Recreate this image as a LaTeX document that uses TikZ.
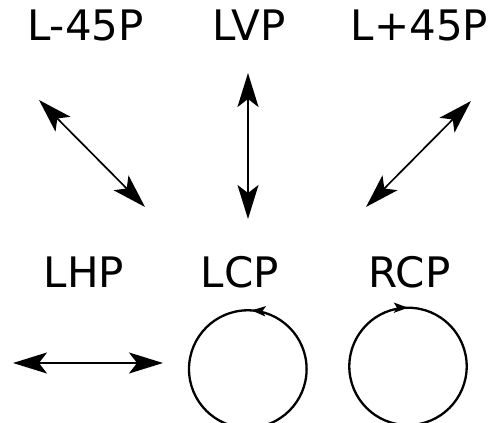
\documentclass[tikz,border=0pt]{standalone}
\usepackage{fontspec}
\setmainfont{DejaVu Sans}
\usetikzlibrary{arrows.meta,decorations.markings}
\tikzset{
  bigtip/.tip={Stealth[length=34pt,width=21pt,inset=8pt]},
  smalltip/.tip={Stealth[length=14pt,width=10pt,inset=3pt]}
}
\begin{document}
\begin{tikzpicture}[x=1pt,y=1pt,
  label/.style={anchor=base, inner sep=0pt, font=\fontsize{42}{50}\selectfont},
  polarrow/.style={line width=1.7pt, bigtip-bigtip},
  ring/.style={line width=2.3pt}]
\useasboundingbox (0,0) rectangle (490,423);
\clip (0,0) rectangle (490,423);

% labels
\node[label] (lm45) at (85.5,382) {L-45P};
\node[label] (lvp)  at (249,382)  {LVP};
\node[label] (lp45) at (419.5,382) {L+45P};
\node[label] (lhp)  at (84,135)   {LHP};
\node[label] (lcp)  at (240,135)  {LCP};
\node[label] (rcp)  at (409.5,135) {RCP};

% end points of the linear polarisation arrows
\coordinate (m45a) at (39,323);
\coordinate (m45b) at (145,216);
\coordinate (vpa)  at (248,350);
\coordinate (vpb)  at (248,204);
\coordinate (p45a) at (471,322);
\coordinate (p45b) at (366,216);
\coordinate (hpa)  at (13,60);
\coordinate (hpb)  at (163,60);

\draw[polarrow] (m45a) -- (m45b);
\draw[polarrow] (vpa) -- (vpb);
\draw[polarrow] (p45a) -- (p45b);
\draw[polarrow] (hpa) -- (hpb);

% circular polarisation
\coordinate (lcpc) at (247.8,53.9);
\coordinate (rcpc) at (408,56.6);
\draw[ring, postaction={decorate},
  decoration={markings, mark=at position 0.24 with {\arrow{smalltip}}}]
  (lcpc) circle[radius=58.8];
\draw[ring, postaction={decorate},
  decoration={markings, mark=at position 0.25 with {\arrowreversed{smalltip}}}]
  (rcpc) circle[radius=58.7];
\end{tikzpicture}
\end{document}
